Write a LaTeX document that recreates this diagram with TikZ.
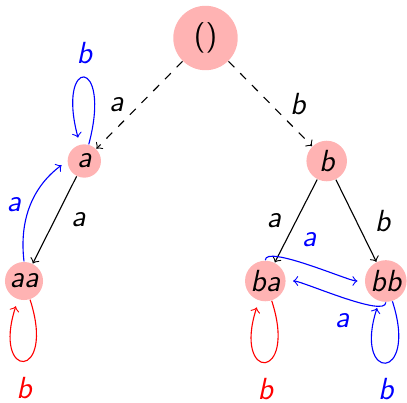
\documentclass[tikz,border=0pt]{standalone}
\usepackage{tikz}
\usepackage{color}
\definecolor{statefill}{RGB}{255, 179, 179}

\begin{document}
\begin{tikzpicture}[x=0.36pt, y=-0.36pt,
    every node/.style={font=\fontsize{11pt}{13pt}\sffamily\itshape},
    state/.style={circle, fill=statefill, inner sep=0pt, minimum size=14.6pt},
    back/.style={->, shorten >=2.5pt},
    selfloop/.style={back, min distance=10.8mm}]
        \useasboundingbox (0,0) rectangle (407,402);
        % States
        \node[state, minimum size=23.2pt, font=\fontsize{11pt}{13pt}\sffamily] (root) at (205.5,38) {()};
        \node[state, minimum size=12pt] (a) at (84.3,161) {a};
        \node[state] (b) at (326.7,161) {b};
        \node[state, minimum size=13.7pt] (aa) at (24,281) {aa};
        \node[state] (ba) at (265.3,281) {ba};
        \node[state, minimum size=15pt] (bb) at (385.8,281) {bb};
        % Tree edges
        \draw[->, dashed] (root) -- node[left=2.2pt] {a} (a);
        \draw[->, dashed] (root) -- node[right=3.6pt] {b} (b);
        \draw[->] (a) -- node[right=2.4pt] {a} (aa);
        \draw[->] (b) -- node[left=1.9pt] {a} (ba);
        \draw[->] (b) -- node[right=3.2pt] {b} (bb);
        % Back edges
        \draw[blue, back] (aa.north) to[bend left] node[left] {a} (a.west);
        \draw[blue, back] (ba.north) to[out=90, in=180, looseness=0.4]
          node[above=2.8pt] {a} (bb.west);
        \draw[blue, back] (bb.south) to[out=-90, in=0, looseness=0.4]
          node[below=2.1pt] {a} (ba.east);
        % Self loops
        \draw[blue, selfloop, min distance=11.6mm] (a) to[out=75, in=105]
          node[above=1.6pt] {b} (a);
        \draw[red, selfloop] (aa) to[out=-72, in=-108] node[below=2.4pt] {b} (aa);
        \draw[red, selfloop] (ba) to[out=-72, in=-108] node[below=2.4pt] {b} (ba);
        \draw[blue, selfloop] (bb) to[out=-72, in=-108] node[below=2.4pt] {b} (bb);
\end{tikzpicture}
\end{document}
